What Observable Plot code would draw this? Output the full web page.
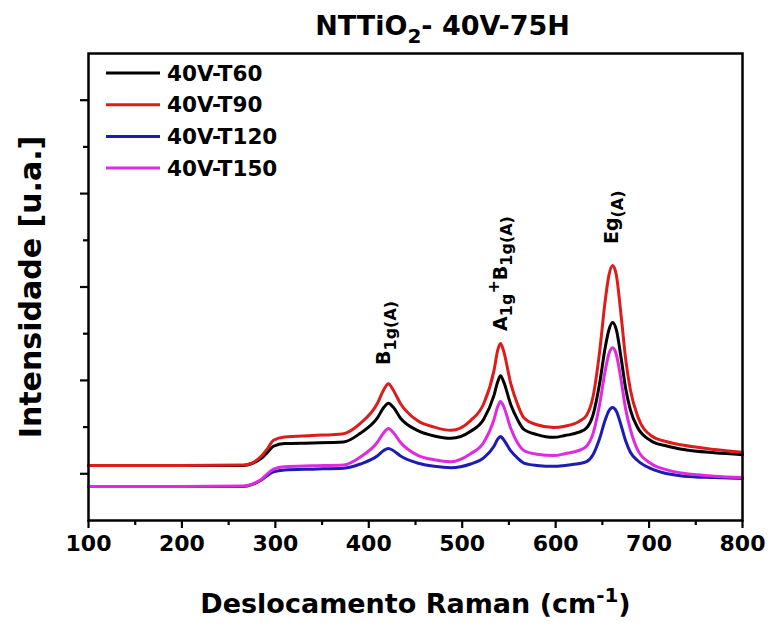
<!DOCTYPE html>
<html>
<head>
<meta charset="utf-8">
<script src="https://cdn.jsdelivr.net/npm/d3@7"></script>
<script src="https://cdn.jsdelivr.net/npm/@observablehq/plot@0.6"></script>
<style>
  body { margin: 0; background: #fff; }
  #chart svg { display: block; }
</style>
</head>
<body>
<div id="chart"></div>
<script>
// ---- data ----
const ramanShift = [100,200,266,275,285,292,298,310,340,373,
                    391,409,416,421,426,434,452,470,488,509,
                    523,534,538,541,544,552,559,566,580,598,
                    610,625,633,640,647,653,657,661,665,670,
                    675,680,688,702,720,737,770,800];
const t60 = [1.18,1.18,1.18,1.22,1.33,1.47,1.59,1.65,1.66,1.68,
             1.87,2.19,2.42,2.51,2.43,2.19,1.93,1.81,1.76,1.91,
             2.17,2.68,2.97,3.10,2.99,2.48,2.17,1.95,1.84,1.78,
             1.82,1.89,1.98,2.26,2.93,3.70,4.08,4.24,4.08,3.49,
             2.82,2.37,1.98,1.71,1.59,1.52,1.45,1.41];
const t90 = [1.18,1.18,1.19,1.23,1.38,1.55,1.72,1.79,1.82,1.86,
             2.08,2.50,2.80,2.93,2.80,2.50,2.14,2.00,1.93,2.14,
             2.50,3.21,3.65,3.79,3.65,2.93,2.50,2.20,2.05,1.99,
             2.02,2.12,2.25,2.65,3.60,4.70,5.25,5.46,5.25,4.40,
             3.45,2.80,2.22,1.82,1.68,1.61,1.52,1.46];
const t120 = [0.73,0.73,0.73,0.77,0.87,0.97,1.04,1.08,1.10,1.12,
              1.21,1.38,1.50,1.54,1.50,1.38,1.23,1.16,1.13,1.21,
              1.34,1.59,1.74,1.80,1.74,1.49,1.34,1.23,1.18,1.16,
              1.18,1.22,1.26,1.41,1.75,2.15,2.35,2.42,2.34,2.04,
              1.70,1.46,1.28,1.11,1.00,0.95,0.92,0.90];
const t150 = [0.73,0.73,0.74,0.78,0.88,1.01,1.10,1.15,1.17,1.19,
              1.36,1.67,1.88,1.97,1.89,1.67,1.40,1.30,1.26,1.43,
              1.67,2.16,2.44,2.55,2.46,1.97,1.67,1.50,1.42,1.39,
              1.43,1.50,1.59,1.86,2.48,3.20,3.57,3.70,3.55,3.01,
              2.38,1.95,1.50,1.22,1.08,1.01,0.95,0.92];

const seriesNames = ["40V-T60", "40V-T90", "40V-T120", "40V-T150"];
const seriesValues = [t60, t90, t120, t150];
const seriesColors = ["#000000", "#dd1c1c", "#1c1cb4", "#e02ae0"];

const xTicks = [100, 200, 300, 400, 500, 600, 700, 800];
const xMinorTicks = [150, 250, 350, 450, 550, 650, 750];
const yMajorTicks = [1, 3, 5, 7, 9];
const yMinorTicks = [2, 4, 6, 8];

const peakShift = [416, 541, 660];
const peakLevel = [3.33, 4.06, 5.92];
const peakPlain = ["B1g(A)", "A1g+B1g(A)", "Eg(A)"];
const peakParts = [
  [["B"], ["1g(A)", "sub"]],
  [["A"], ["1g", "sub"], ["+", "sup"], ["B"], ["1g(A)", "sub"]],
  [["Eg"], ["(A)", "sub"]]
];

const titleText = "NTTiO2- 40V-75H";
const titleParts = [["NTTiO"], ["2", "sub"], ["- 40V-75H"]];
const xLabelText = "Deslocamento Raman (cm-1)";
const xLabelParts = [["Deslocamento Raman (cm"], ["-1", "sup"], [")"]];
const yLabelText = "Intensidade [u.a.]";

// ---- build table ----
const rows = [];
seriesNames.forEach((name, s) => {
  ramanShift.forEach((x, i) => rows.push({shift: x, intensity: seriesValues[s][i], series: name}));
});
const peaks = peakShift.map((x, i) => ({x, y: peakLevel[i], label: peakPlain[i]}));

const FONT = "DejaVu Sans";

const plot = Plot.plot({
  width: 769,
  height: 624,
  marginLeft: 88,
  marginRight: 27,
  marginTop: 53,
  marginBottom: 104,
  style: {fontFamily: FONT, fontWeight: "bold", background: "#fff", color: "#000"},
  x: {domain: [100, 800], label: null},
  y: {domain: [0, 10], label: null},
  color: {domain: seriesNames, range: seriesColors},
  marks: [
    Plot.line(rows, {x: "shift", y: "intensity", z: "series", stroke: "series",
                     strokeWidth: 3, curve: "monotone-x"}),
    Plot.frame({stroke: "#000", strokeWidth: 2.5}),
    Plot.axisX({ticks: xTicks, tickSize: 8, tickPadding: 7, fontSize: 22,
                strokeWidth: 2.2, label: null}),
    Plot.axisX({ticks: xMinorTicks, tickSize: 5, tickFormat: () => "",
                strokeWidth: 2.2, label: null}),
    Plot.axisY({ticks: yMajorTicks, tickSize: 8, tickFormat: () => "",
                strokeWidth: 2.2, label: null}),
    Plot.axisY({ticks: yMinorTicks, tickSize: 5, tickFormat: () => "",
                strokeWidth: 2.2, label: null}),
    Plot.text(peaks, {x: "x", y: "y", text: "label", rotate: -90, textAnchor: "start",
                      lineAnchor: "middle", fontSize: 19, fill: "#000"}),
    Plot.text([titleText], {frameAnchor: "top", text: d => d, dx: 27, dy: -27,
                            textAnchor: "middle", lineAnchor: "middle", fontSize: 27, fill: "#000"}),
    Plot.text([xLabelText], {frameAnchor: "bottom", text: d => d, dy: 84,
                             textAnchor: "middle", lineAnchor: "middle", fontSize: 27, fill: "#000"}),
    Plot.text([yLabelText], {frameAnchor: "left", text: d => d, dx: -57, rotate: -90,
                             textAnchor: "middle", lineAnchor: "middle", fontSize: 30, fill: "#000"})
  ]
});

// rich text (sub/superscripts) as real tspans
function richText(el, parts, size, scale) {
  const t = d3.select(el);
  t.text("");
  let shift = 0;
  parts.forEach(([str, kind]) => {
    const target = kind === "sub" ? 0.3 * size : kind === "sup" ? -0.42 * size : 0;
    const ts = t.append("tspan").text(str).attr("dy", target - shift);
    if (kind) ts.attr("font-size", Math.round(size * scale));
    shift = target;
  });
}
const svg = d3.select(plot);
svg.selectAll("text").each(function() {
  const s = this.textContent;
  const pi = peakPlain.indexOf(s);
  if (pi >= 0) richText(this, peakParts[pi], 19, 0.82);
  else if (s === titleText) richText(this, titleParts, 27, 0.75);
  else if (s === xLabelText) richText(this, xLabelParts, 27, 0.75);
});

// legend (inside the frame, top-left)
const lg = svg.append("g").attr("aria-label", "legend");
seriesNames.forEach((name, i) => {
  const y = 73 + i * 31.7;
  lg.append("line").attr("x1", 106).attr("x2", 160).attr("y1", y).attr("y2", y)
    .attr("stroke", seriesColors[i]).attr("stroke-width", 3);
  lg.append("text").attr("x", 167).attr("y", y).attr("dy", "0.36em")
    .attr("text-anchor", "start")
    .attr("font-size", 21.5).attr("font-family", FONT).attr("font-weight", "bold")
    .attr("fill", "#000").text(name);
});

document.getElementById("chart").appendChild(plot);
</script>
</body>
</html>
